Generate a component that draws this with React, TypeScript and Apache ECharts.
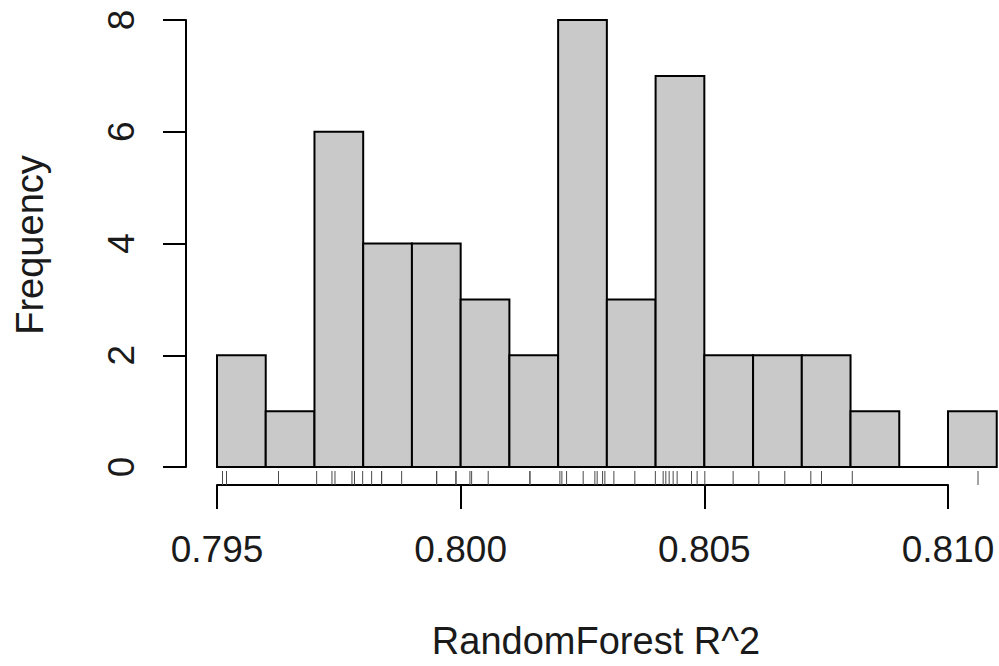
import React, { useEffect, useRef } from "react";
import * as echarts from "echarts";

// Histogram bins of the R^2 values (right-closed intervals)
const binEdges = [
  0.795, 0.796, 0.797, 0.798, 0.799, 0.8, 0.801, 0.802, 0.803, 0.804, 0.805,
  0.806, 0.807, 0.808, 0.809, 0.81, 0.811,
];
const binCounts = [2, 1, 6, 4, 4, 3, 2, 8, 3, 7, 2, 2, 2, 1, 0, 1];

// Individual observations shown as a rug under the bars
const rugValues = [
  0.795113, 0.795195, 0.796262, 0.797045, 0.797359, 0.797421, 0.797769,
  0.797821, 0.797989, 0.798173, 0.798378, 0.798378, 0.798789, 0.799507,
  0.799507, 0.799903, 0.799903, 0.80019, 0.800225, 0.800565, 0.801421,
  0.801421, 0.802036, 0.802077, 0.802173, 0.802514, 0.802754, 0.802801,
  0.802912, 0.802959, 0.803144, 0.803574, 0.803995, 0.804155, 0.80421,
  0.804278, 0.80436, 0.804442, 0.804737, 0.804852, 0.80501, 0.805591,
  0.806118, 0.806651, 0.807185, 0.807404, 0.808036, 0.810616,
];

const xTickMin = 0.795;
const xTickMax = 0.81;
const xTickStep = 0.005;
const yTickMin = 0;
const yTickMax = 8;
const yTickStep = 2;

const xTitle = "RandomForest R^2";
const yTitle = "Frequency";

const FONT = "'Liberation Sans', Arial, Helvetica, sans-serif";
const TEXT = "#1a1a1a";

export default function App() {
  const ref = useRef<HTMLDivElement>(null);

  useEffect(() => {
    if (!ref.current) return;
    const chart = echarts.init(ref.current, undefined, { renderer: "svg" });

    const bins = binCounts.map((c, i) => [binEdges[i], binEdges[i + 1], c]);

    chart.setOption({
      animation: false,
      backgroundColor: "#ffffff",
      grid: { left: 217, right: 51, top: 20, bottom: 199, containLabel: false },
      xAxis: {
        type: "value",
        min: xTickMin,
        max: xTickMax,
        interval: xTickStep,
        offset: 18,
        splitLine: { show: false },
        axisLine: { show: true, onZero: false, lineStyle: { color: "#000", width: 2 } },
        axisTick: { show: true, length: 24, lineStyle: { color: "#000", width: 2 } },
        axisLabel: {
          show: true,
          margin: 46,
          fontSize: 37,
          fontFamily: FONT,
          color: TEXT,
          formatter: (v: number) => v.toFixed(3),
        },
      },
      yAxis: {
        type: "value",
        min: yTickMin,
        max: yTickMax,
        interval: yTickStep,
        offset: 31,
        splitLine: { show: false },
        axisLine: { show: true, onZero: false, lineStyle: { color: "#000", width: 2 } },
        axisTick: { show: true, length: 23, lineStyle: { color: "#000", width: 2 } },
        axisLabel: {
          show: true,
          rotate: 90,
          margin: 46,
          fontSize: 37,
          fontFamily: FONT,
          color: TEXT,
        },
      },
      graphic: [
        {
          type: "text",
          x: 596,
          y: 641,
          style: {
            text: xTitle,
            fontSize: 38,
            fontFamily: FONT,
            fill: TEXT,
            textAlign: "center",
            textVerticalAlign: "middle",
          },
        },
        {
          type: "text",
          x: 30,
          y: 245,
          rotation: Math.PI / 2,
          style: {
            text: yTitle,
            fontSize: 38,
            fontFamily: FONT,
            fill: TEXT,
            textAlign: "center",
            textVerticalAlign: "middle",
          },
        },
      ],
      series: [
        {
          type: "custom",
          clip: false,
          data: bins,
          encode: { x: [0, 1], y: 2 },
          renderItem: (_params: any, api: any) => {
            const x0 = api.value(0);
            const x1 = api.value(1);
            const n = api.value(2);
            const p0 = api.coord([x0, n]);
            const p1 = api.coord([x1, 0]);
            return {
              type: "rect",
              shape: { x: p0[0], y: p0[1], width: p1[0] - p0[0], height: p1[1] - p0[1] },
              style: { fill: "#c9c9c9", stroke: "#000", lineWidth: 2 },
            };
          },
        },
        {
          type: "custom",
          clip: false,
          data: rugValues.map((v) => [v, 0]),
          encode: { x: 0, y: 1 },
          renderItem: (_params: any, api: any) => {
            const p = api.coord([api.value(0), 0]);
            return {
              type: "line",
              shape: { x1: p[0], y1: p[1] + 4, x2: p[0], y2: p[1] + 18 },
              style: { stroke: "#4a4a4a", lineWidth: 1 },
            };
          },
        },
      ],
    });

    return () => chart.dispose();
  }, []);

  return (
    <div
      ref={ref}
      style={{ position: "fixed", left: 0, top: 0, width: 999, height: 666, background: "#fff" }}
    />
  );
}
